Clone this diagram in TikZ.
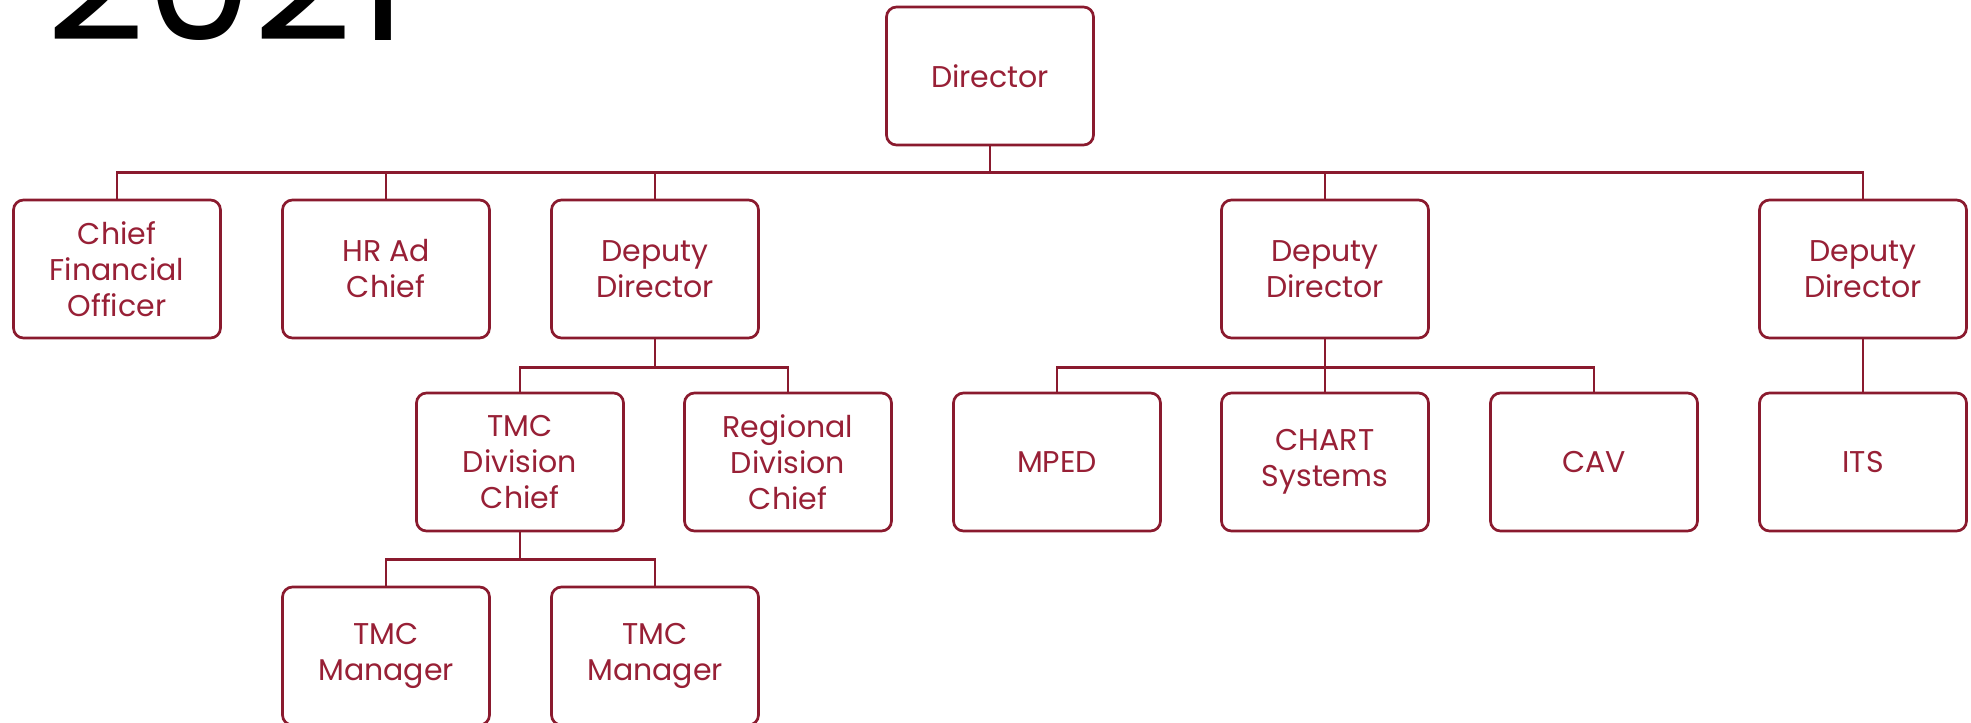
\documentclass[tikz,border=0pt]{standalone}
\usepackage{fontspec}
\setmainfont{Poppins}
\usepackage{tikz}
\usetikzlibrary{positioning}
\definecolor{maroon}{RGB}{138,26,46}
\definecolor{maroontxt}{RGB}{152,32,54}
\tikzset{
  org/.style ={x=0.5pt, y=-0.5pt},
  unit/.style={draw=maroon, line width=1.35pt, rounded corners=5pt, fill=white,
               minimum width=103.5pt, minimum height=69pt, inner sep=2pt,
               align=center, text=maroontxt, font=\fontsize{15}{18}\selectfont},
  bus/.style ={draw=maroon, line width=1.35pt},
  yr/.style  ={anchor=base west, inner sep=0pt, font=\fontsize{86}{86}\selectfont}
}

\begin{document}
\begin{tikzpicture}[org]
\useasboundingbox (0,0) rectangle (1971,723);
\node[yr] (year) at (46,40) {2021};
% top level
\node[unit] (dir) at (990,76) {Director};
% second row
\node[unit] (cfo) at (117,269)  {Chief\\Financial\\Officer};
\node[unit] (hr)  at (386,269)  {HR Ad\\Chief};
\node[unit] (dda) at (655,269)  {Deputy\\Director};
\node[unit] (ddb) at (1325,269) {Deputy\\Director};
\node[unit] (ddc) at (1863,269) {Deputy\\Director};
% third row
\node[unit] (tmcd) at (520,462)  {TMC\\Division\\Chief};
\node[unit] (regd) at (788,462)  {Regional\\Division\\Chief};
\node[unit] (mped) at (1057,462) {MPED};
\node[unit] (chart) at (1325,462) {CHART\\Systems};
\node[unit] (cav) at (1594,462)  {CAV};
\node[unit] (its) at (1863,462)  {ITS};
% fourth row
\node[unit] (mgra) at (386,656) {TMC\\Manager};
\node[unit] (mgrb) at (655,656) {TMC\\Manager};
% connectors
\foreach \c in {cfo,hr,dda,ddb,ddc}
  \draw[bus] (dir.south) -- ++(0,26) -| (\c.north);
\foreach \c in {tmcd,regd}
  \draw[bus] (dda.south) -- ++(0,28) -| (\c.north);
\foreach \c in {mped,chart,cav}
  \draw[bus] (ddb.south) -- ++(0,28) -| (\c.north);
\draw[bus] (ddc.south) -- (its.north);
\foreach \c in {mgra,mgrb}
  \draw[bus] (tmcd.south) -- ++(0,27) -| (\c.north);
\end{tikzpicture}
\end{document}
